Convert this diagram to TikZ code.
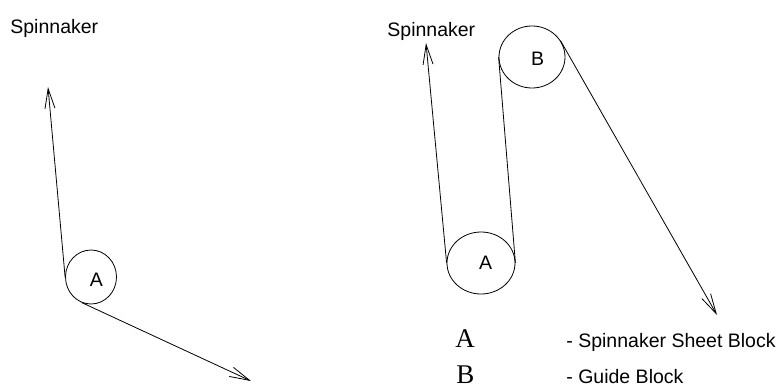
\documentclass[tikz,border=0pt]{standalone}
\usepackage{fontspec}
\setmainfont{Liberation Sans}
\newfontfamily\legendserif{Liberation Serif}
\usetikzlibrary{arrows.meta,shapes.geometric}
\begin{document}
\begin{tikzpicture}[x=1pt,y=-1pt,line width=0.8pt,
  block/.style={draw,ellipse,inner sep=0pt},
  lbl/.style={font=\fontsize{19.5}{22}\selectfont,inner sep=0pt},
  txt/.style={font=\fontsize{19.5}{22}\selectfont,inner sep=0pt,anchor=base west},
  big/.style={font=\legendserif\fontsize{27}{29}\selectfont,inner sep=0pt,anchor=base west},
  sheet/.style={-{Straight Barb[length=20pt,width=10pt]}}]
\useasboundingbox (0,0) rectangle (782,386);
% left diagram
\node[txt] (sp1) at (10,33) {Spinnaker};
\node[block,minimum width=51pt,minimum height=54pt,
      label={[lbl,xshift=5.5pt,yshift=-3pt]center:A}] (a1) at (91,277) {};
\coordinate (t1) at (48,87);
\coordinate (t2) at (251,381);
\draw[sheet] (a1.west) -- (t1);
\draw[sheet] (a1.250) -- (t2);
% right diagram
\node[txt] (sp2) at (387,36) {Spinnaker};
\node[block,minimum width=68pt,minimum height=62pt,
      label={[lbl,xshift=4.5pt]center:A}] (a2) at (481,263) {};
\node[block,minimum width=66pt,minimum height=62pt,
      label={[lbl,xshift=5.5pt,yshift=-2pt]center:B}] (b2) at (532,57) {};
\coordinate (t3) at (426,43);
\coordinate (t4) at (717,315);
\draw[sheet] (a2.west) -- (t3);
\draw (a2.east) -- (b2.west);
\draw[sheet] (b2.30) -- (t4);
% legend
\node[big] (la) at (455,347.5) {A};
\node[big] (lb) at (456,383) {B};
\node[txt] (da) at (566,347.5) {- Spinnaker Sheet Block};
\node[txt] (db) at (566,383) {- Guide Block};
\end{tikzpicture}
\end{document}
